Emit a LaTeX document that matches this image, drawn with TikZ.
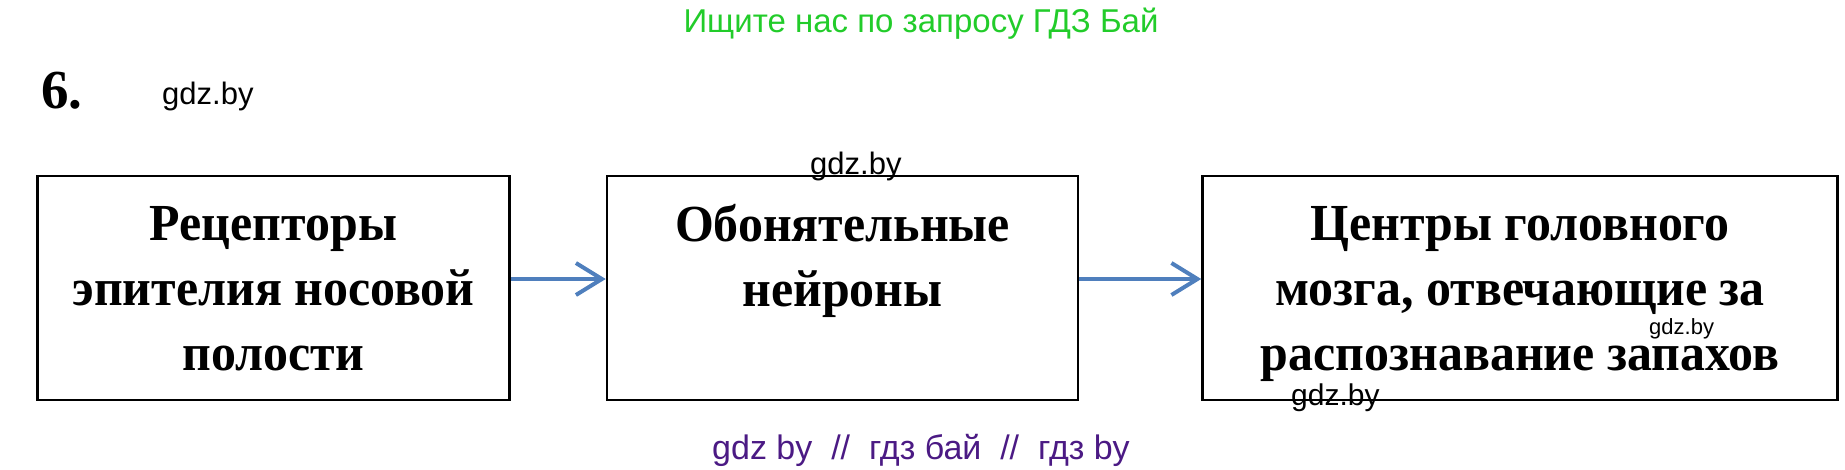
\documentclass[tikz,border=0pt]{standalone}
\usepackage{fontspec}
\setmainfont{Liberation Serif}
\newfontfamily\boxfont[FakeStretch=0.96]{Liberation Serif}
\newfontfamily\wmfont{Liberation Sans}
\usetikzlibrary{arrows.meta}
\definecolor{wmgreen}{HTML}{22CC2A}
\definecolor{wmpurple}{HTML}{4B1A84}
\definecolor{arrowblue}{HTML}{4F7FBD}
\begin{document}
\begin{tikzpicture}[x=1pt, y=-1pt,
    box/.style={draw, line width=2.5pt, inner sep=0pt, align=center, text depth=0pt,
        font=\boxfont\bfseries\fontsize{52}{65}\selectfont},
    flow/.style={arrowblue, line width=4pt, -{Straight Barb[length=26pt, width=32pt, line width=4pt]}},
    wmark/.style={font=\wmfont\fontsize{31}{31}\selectfont, anchor=base west, inner sep=0pt}]
    \useasboundingbox (0,0) rectangle (1845,469);

    % Header
    \node[wmgreen, font=\wmfont\fontsize{33}{33}\selectfont, anchor=base] (title) at (921,32) {Ищите нас по запросу ГДЗ Бай};
    \node[font=\bfseries\fontsize{55}{55}\selectfont, anchor=base west, inner sep=0pt] (num) at (41,108) {6.};
    \node[wmark] (wm1) at (162,104) {gdz.by};

    % Boxes
    \node[box, minimum width=472pt, minimum height=224pt] (rec) at (273.5,288) {Рецепторы\\эпителия носовой\\полости};
    \node[box, minimum width=471pt, minimum height=224pt] (neu) at (842.5,288) {Обонятельные\\нейроны\\\vphantom{полости}};
    \node[box, minimum width=635pt, minimum height=224pt] (cen) at (1520,288) {Центры головного\\мозга, отвечающие за\\распознавание запахов};

    % Arrows
    \draw[flow] ([yshift=9pt]rec.east) -- ([yshift=9pt]neu.west);
    \draw[flow] ([yshift=9pt]neu.east) -- ([yshift=9pt]cen.west);

    % Watermarks
    \node[wmark] (wm2) at (810,174) {gdz.by};
    \node[wmark, font=\wmfont\fontsize{22}{22}\selectfont] (wm3) at (1649,334) {gdz.by};
    \node[wmark, font=\wmfont\fontsize{30}{30}\selectfont] (wm4) at (1291,405) {gdz.by};
    \node[wmpurple, font=\wmfont\fontsize{34}{34}\selectfont, anchor=base] (foot) at (921,459) {gdz by\ \ //\ \ гдз бай\ \ //\ \ гдз by};
\end{tikzpicture}
\end{document}
